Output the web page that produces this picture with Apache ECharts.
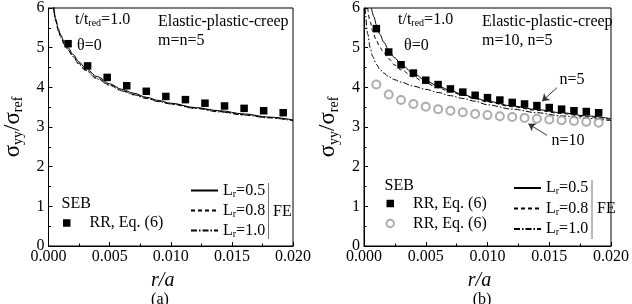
<!DOCTYPE html>
<html>
<head>
<meta charset="utf-8">
<script src="https://cdn.jsdelivr.net/npm/echarts@6/dist/echarts.min.js"></script>
<style>
  html, body { margin: 0; padding: 0; background: #fff; }
  #chart { width: 632px; height: 304px; }
</style>
</head>
<body>
<div id="chart"></div>
<script>
// ---- data ----
// (a) m=n=5
const aRrX = [0.0016, 0.0032, 0.0048, 0.0064, 0.0080, 0.0096, 0.0112, 0.0128, 0.0144, 0.0160, 0.0176, 0.0192];
const aRrY = [5.10, 4.54, 4.25, 4.04, 3.90, 3.77, 3.69, 3.60, 3.53, 3.47, 3.41, 3.36];
const aFeX = [0.0004, 0.0006, 0.0008, 0.001, 0.0013, 0.0016, 0.002, 0.0025, 0.003, 0.004, 0.005, 0.006, 0.007, 0.008, 0.009, 0.010, 0.012, 0.014, 0.016, 0.018, 0.020];
const aLr05 = [6.12, 5.72, 5.48, 5.32, 5.14, 5.00, 4.83, 4.64, 4.49, 4.27, 4.09, 3.95, 3.85, 3.75, 3.67, 3.60, 3.49, 3.41, 3.33, 3.25, 3.18];
const aLr08 = [6.05, 5.68, 5.44, 5.28, 5.10, 4.96, 4.79, 4.60, 4.45, 4.23, 4.06, 3.92, 3.82, 3.73, 3.65, 3.58, 3.48, 3.39, 3.31, 3.24, 3.17];
const aLr10 = [6.02, 5.66, 5.42, 5.26, 5.08, 4.94, 4.77, 4.58, 4.43, 4.21, 4.05, 3.91, 3.81, 3.72, 3.64, 3.58, 3.47, 3.38, 3.30, 3.23, 3.16];

// (b) m=10, n=5
const bRrX = [0.001, 0.002, 0.003, 0.004, 0.005, 0.006, 0.007, 0.008, 0.009, 0.010, 0.011, 0.012, 0.013, 0.014, 0.015, 0.016, 0.017, 0.018, 0.019];
const bRr5Y = [5.48, 4.89, 4.57, 4.36, 4.18, 4.07, 3.96, 3.88, 3.80, 3.74, 3.68, 3.62, 3.58, 3.54, 3.49, 3.45, 3.41, 3.39, 3.36];
const bRr10Y = [4.07, 3.82, 3.68, 3.58, 3.51, 3.45, 3.41, 3.37, 3.33, 3.30, 3.27, 3.25, 3.23, 3.21, 3.19, 3.17, 3.15, 3.13, 3.11];
const bLr05X = [0.0006, 0.0008, 0.001, 0.0013, 0.0016, 0.002, 0.0025, 0.003, 0.004, 0.005, 0.006, 0.007, 0.008, 0.009, 0.010, 0.012, 0.014, 0.016, 0.018, 0.020];
const bLr05Y = [6.00, 5.78, 5.58, 5.33, 5.14, 4.94, 4.74, 4.58, 4.35, 4.17, 4.03, 3.92, 3.82, 3.73, 3.65, 3.53, 3.44, 3.36, 3.28, 3.21];
const bLr08X = [0.0003, 0.0005, 0.0007, 0.001, 0.0013, 0.0016, 0.002, 0.0025, 0.003, 0.004, 0.005, 0.006, 0.007, 0.008, 0.009, 0.010, 0.012, 0.014, 0.016, 0.018, 0.020];
const bLr08Y = [6.00, 5.65, 5.42, 5.18, 5.00, 4.87, 4.72, 4.56, 4.44, 4.26, 4.11, 3.99, 3.89, 3.80, 3.71, 3.63, 3.51, 3.42, 3.34, 3.26, 3.19];
const bLr10X = [0.0001, 0.0003, 0.0005, 0.0007, 0.001, 0.0013, 0.0016, 0.002, 0.0025, 0.003, 0.004, 0.005, 0.006, 0.007, 0.008, 0.009, 0.010, 0.012, 0.014, 0.016, 0.018, 0.020];
const bLr10Y = [6.00, 5.35, 5.00, 4.78, 4.58, 4.45, 4.36, 4.27, 4.19, 4.13, 4.03, 3.95, 3.87, 3.79, 3.72, 3.65, 3.56, 3.45, 3.36, 3.28, 3.22, 3.16];
// arrows pointing at the n=5 / n=10 curves: [start, tip]
const arrowN5 = [[0.01562, 3.99], [0.01442, 3.65]];
const arrowN10 = [[0.01482, 2.79], [0.01331, 3.08]];

const xTicks = [0, 0.005, 0.010, 0.015, 0.020];
const yTicks = [0, 1, 2, 3, 4, 5, 6];

const FONT = 'Liberation Serif, Times New Roman, serif';
const zip = (xs, ys) => xs.map((x, i) => [x, ys[i]]);

const rich = {
  m: { fontFamily: FONT, fontSize: 16, lineHeight: 17, color: '#000' },
  s: { fontFamily: FONT, fontSize: 10, lineHeight: 6, verticalAlign: 'bottom', color: '#000' },
  t: { fontFamily: FONT, fontSize: 16, lineHeight: 17, color: '#000', padding: [0, 0, 0, 14] },
};

const LABELS = {
  'a-rr': '{t|RR, Eq. (6)}', 'b-rr5': '{t|RR, Eq. (6)}', 'b-rr10': '{t|RR, Eq. (6)}',
  'a-05': '{m|L}{s|r}{m|=0.5}', 'a-08': '{m|L}{s|r}{m|=0.8}', 'a-10': '{m|L}{s|r}{m|=1.0}',
  'b-05': '{m|L}{s|r}{m|=0.5}', 'b-08': '{m|L}{s|r}{m|=0.8}', 'b-10': '{m|L}{s|r}{m|=1.0}',
};

const GRIDS = [{ left: 42, top: 7, width: 251, height: 239 }, { left: 364, top: 7, width: 251, height: 239 }];

const xAxisOf = (i) => ({
  type: 'value', gridIndex: i, min: 0, max: 0.02, interval: 0.005,
  name: 'r/a', nameLocation: 'middle', nameGap: 17,
  nameTextStyle: { fontFamily: FONT, fontSize: 20, fontStyle: 'italic', color: '#000', lineHeight: 22, padding: [0, 16, 0, 0] },
  axisLine: { show: true, lineStyle: { color: '#000', width: 1 } },
  axisTick: { show: true, inside: true, length: 4, lineStyle: { color: '#000' } },
  minorTick: { show: true, splitNumber: 2, length: 2.5, lineStyle: { color: '#000' } },
  splitLine: { show: false },
  axisLabel: { fontFamily: FONT, fontSize: 16, color: '#000', margin: 3,
    formatter: v => xTicks.some(t => Math.abs(t - v) < 1e-9) ? v.toFixed(3) : '' },
});
const yAxisOf = (i) => ({
  type: 'value', gridIndex: i, min: 0, max: 6, interval: 1,
  name: '{g|σ}{u|yy}{g|/σ}{u|ref}', nameLocation: 'middle', nameRotate: 90, nameGap: 23,
  nameTextStyle: { rich: {
    g: { fontFamily: FONT, fontSize: 23, lineHeight: 26, color: '#000' },
    u: { fontFamily: FONT, fontSize: 14, lineHeight: 10, verticalAlign: 'bottom', color: '#000' },
  } },
  axisLine: { show: true, lineStyle: { color: '#000', width: 1 } },
  axisTick: { show: true, inside: true, length: 4, lineStyle: { color: '#000' } },
  minorTick: { show: true, splitNumber: 2, length: 2.5, lineStyle: { color: '#000' } },
  splitLine: { show: false },
  axisLabel: { fontFamily: FONT, fontSize: 16, color: '#000', margin: 4,
    formatter: v => yTicks.includes(v) ? String(v) : '' },
});

const squares = (name, i, data) => ({
  name, type: 'scatter', xAxisIndex: i, yAxisIndex: i, data,
  symbol: 'rect', symbolSize: 7.5, itemStyle: { color: '#000', opacity: 1 }, z: 4,
});
const feLine = (name, i, data, type) => ({
  name, type: 'line', xAxisIndex: i, yAxisIndex: i, data,
  symbol: 'none', showSymbol: false, smooth: 0.35, smoothMonotone: 'x',
  lineStyle: { color: '#000', width: 1, type }, itemStyle: { color: '#000' }, z: 3,
});
const DASH = [4, 3];
const DASHDOT = [6, 2, 1.5, 2];

const legendBase = {
  orient: 'vertical', padding: 0, selectedMode: false,
  textStyle: { fontFamily: FONT, fontSize: 16, color: '#000', rich },
  formatter: n => LABELS[n],
};
// line legends: the library adds a marker in the middle of the sample, hide it
const lineLegend = { itemStyle: { opacity: 0, borderWidth: 0 }, lineStyle: { opacity: 1 } };

const txt = (x, y, text, extra) => ({
  type: 'text', x, y, silent: true,
  style: Object.assign({ text, rich, fontFamily: FONT, fontSize: 16, fill: '#000', verticalAlign: 'middle' }, extra || {}),
});

const chart = echarts.init(document.getElementById('chart'), null, { renderer: 'canvas' });
chart.setOption({
  animation: false,
  backgroundColor: '#fff',
  textStyle: { fontFamily: FONT },
  grid: GRIDS.map(g => Object.assign({ show: true, borderColor: '#000', borderWidth: 1, backgroundColor: 'transparent' }, g)),
  xAxis: [xAxisOf(0), xAxisOf(1)],
  yAxis: [yAxisOf(0), yAxisOf(1)],
  legend: [
    Object.assign({}, legendBase, { left: 63, top: 215, itemWidth: 7.5, itemHeight: 7.5, itemGap: 4, data: ['a-rr'] }),
    Object.assign({}, legendBase, lineLegend, { left: 190, top: 182.5, itemWidth: 27, itemHeight: 10, itemGap: 3.5, data: ['a-05', 'a-08', 'a-10'] }),
    Object.assign({}, legendBase, { left: 385.5, top: 195.5, itemWidth: 7.5, itemHeight: 7.5, itemGap: 4, data: ['b-rr5', 'b-rr10'] }),
    Object.assign({}, legendBase, lineLegend, { left: 513, top: 180, itemWidth: 27, itemHeight: 10, itemGap: 4, data: ['b-05', 'b-08', 'b-10'] }),
  ],
  series: [
    feLine('a-05', 0, zip(aFeX, aLr05), 'solid'),
    feLine('a-08', 0, zip(aFeX, aLr08), DASH),
    feLine('a-10', 0, zip(aFeX, aLr10), DASHDOT),
    squares('a-rr', 0, zip(aRrX, aRrY)),

    feLine('b-05', 1, zip(bLr05X, bLr05Y), 'solid'),
    feLine('b-08', 1, zip(bLr08X, bLr08Y), DASH),
    feLine('b-10', 1, zip(bLr10X, bLr10Y), DASHDOT),
    squares('b-rr5', 1, zip(bRrX, bRr5Y)),
    {
      name: 'b-rr10', type: 'scatter', xAxisIndex: 1, yAxisIndex: 1, data: zip(bRrX, bRr10Y),
      symbol: 'emptyCircle', symbolSize: 8, itemStyle: { color: '#999', borderWidth: 1 }, z: 4,
    },
    {
      type: 'lines', coordinateSystem: 'cartesian2d', xAxisIndex: 1, yAxisIndex: 1,
      symbol: ['none', 'arrow'], symbolSize: 7,
      lineStyle: { color: '#333', width: 1, opacity: 1 },
      data: [{ coords: arrowN5 }, { coords: arrowN10 }], z: 5,
    },
  ],
  graphic: [
    // (a)
    txt(75, 19.5, '{m|t/t}{s|red}{m|=1.0}'),
    txt(77, 45.5, '{m|θ=0}'),
    txt(158, 21.5, '{m|Elastic-plastic-creep}'),
    txt(158, 41, '{m|m=n=5}'),
    txt(61.5, 203.5, '{m|SEB}'),
    txt(273, 212, '{m|FE}'),
    { type: 'line', silent: true, shape: { x1: 268.5, y1: 183, x2: 268.5, y2: 239 }, style: { stroke: '#777', lineWidth: 1 } },
    txt(160, 300, '{m|(a)}', { align: 'center' }),
    // (b)
    txt(398, 19.5, '{m|t/t}{s|red}{m|=1.0}'),
    txt(404, 45.5, '{m|θ=0}'),
    txt(482, 21.5, '{m|Elastic-plastic-creep}'),
    txt(482, 41, '{m|m=10, n=5}'),
    txt(384.5, 185.5, '{m|SEB}'),
    txt(597, 209, '{m|FE}'),
    { type: 'line', silent: true, shape: { x1: 592, y1: 180, x2: 592, y2: 239 }, style: { stroke: '#777', lineWidth: 1 } },
    txt(572, 79.5, '{m|n=5}', { align: 'center' }),
    txt(568, 141, '{m|n=10}', { align: 'center' }),
    txt(482, 300, '{m|(b)}', { align: 'center' }),
  ],
});
</script>
</body>
</html>
